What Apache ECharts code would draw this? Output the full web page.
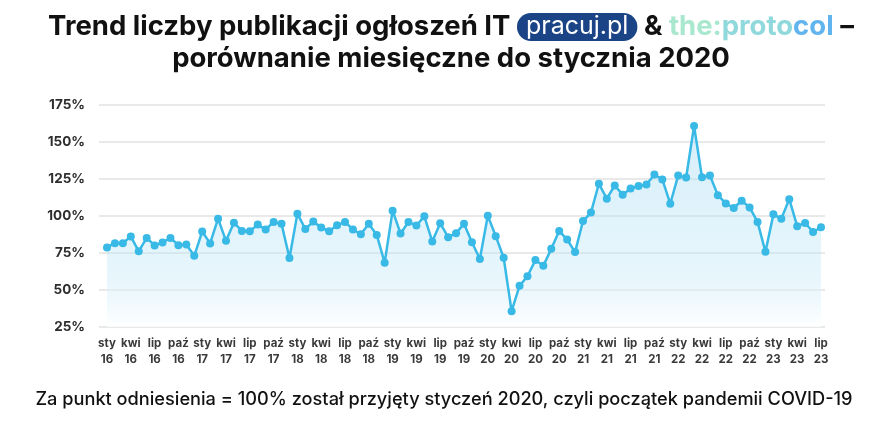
<!DOCTYPE html>
<html>
<head>
<meta charset="utf-8">
<script src="https://cdn.jsdelivr.net/npm/echarts@6/dist/echarts.min.js"></script>
<style>html,body{margin:0;padding:0;background:#fff}#c{width:891px;height:431px}</style>
</head>
<body>
<div id="c"></div>
<script>
const monthNames = ['sty','lut','mar','kwi','maj','cze','lip','sie','wrz','paź','lis','gru'];
const years = ['16','17','18','19','20','21','22','23'];
const lastYearMonths = 7;
const values = [
  78.8, 81.6, 81.6, 86.2, 76.1, 85.2, 80.1, 82.1, 85.2, 80.3, 80.8, 73.1,
  89.5, 81.5, 98.2, 83.2, 95.5, 89.9, 89.7, 94.2, 90.8, 96.0, 94.7, 71.6,
  101.6, 91.2, 96.2, 92.2, 89.7, 93.7, 96.0, 90.9, 87.7, 94.7, 87.2, 68.4,
  103.6, 88.2, 96.0, 93.5, 99.8, 82.8, 95.1, 85.7, 88.4, 94.7, 82.3, 70.9,
  100.2, 86.4, 71.8, 35.7, 52.8, 59.3, 70.2, 66.4, 77.8, 89.9, 84.1, 75.6,
  96.6, 102.3, 121.8, 111.7, 120.6, 114.4, 118.6, 120.2, 121.3, 128.0, 124.7, 108.3,
  127.4, 126.0, 160.8, 126.2, 127.4, 114.1, 108.5, 105.4, 110.3, 105.8, 96.0, 75.8,
  101.1, 98.2, 111.4, 93.1, 95.3, 89.2, 92.4
];
const yTicks = [25, 50, 75, 100, 125, 150, 175];
const titleLine1 = 'Trend liczby publikacji ogłoszeń IT ';
const titleLine2 = 'porównanie miesięczne do stycznia 2020';
const footnote = 'Za punkt odniesienia = 100% został przyjęty styczeń 2020, czyli początek pandemii COVID-19';

const categories = [];
years.forEach((y, yi) => {
  const n = yi === years.length - 1 ? lastYearMonths : 12;
  for (let m = 0; m < n; m++) categories.push(monthNames[m] + '\n' + y);
});

const chart = echarts.init(document.getElementById('c'), null, {renderer: 'canvas'});
const FONT = 'Inter, "Noto Sans", sans-serif';
const TS = 27.5;
const option = {
  backgroundColor: '#ffffff',
  animation: false,
  title: [{
    text: titleLine1 + '{badge|pracuj.pl} & {t1|the:}{t2|proto}{t3|col} –\n' + titleLine2,
    left: 446,
    textAlign: 'center',
    top: 6,
    textStyle: {
      fontFamily: FONT, fontSize: TS, fontWeight: 'bold', color: '#111111', lineHeight: 32, align: 'center',
      rich: {
        badge: {fontFamily: FONT, fontSize: 25, fontWeight: 'normal', color: '#ffffff', backgroundColor: '#1b4486', borderRadius: 14, padding: [1, 9, 2, 9], lineHeight: 28},
        t1: {fontFamily: FONT, fontSize: TS, fontWeight: 'bold', color: '#a9e8cf'},
        t2: {fontFamily: FONT, fontSize: TS, fontWeight: 'bold', color: '#8fd8dc'},
        t3: {fontFamily: FONT, fontSize: TS, fontWeight: 'bold', color: '#62b4ee'}
      }
    }
  }, {
    text: footnote,
    left: 439,
    textAlign: 'center',
    top: 386,
    textStyle: {fontFamily: FONT, fontSize: 18.2, fontWeight: 500, color: '#111111'}
  }],
  grid: [
    {left: 99, right: 66, top: 105, height: 222},
    {left: 107, right: 70, top: 105, height: 222}
  ],
  xAxis: [
    {gridIndex: 0, type: 'value', min: 0, max: 1, show: false},
    {
      gridIndex: 1, type: 'category', data: categories, boundaryGap: false,
      axisLine: {show: false}, axisTick: {show: false},
      axisLabel: {interval: 2, margin: 9, fontFamily: FONT, fontSize: 11.5, fontWeight: 'bold', color: '#3a3a3a', lineHeight: 16}
    }
  ],
  yAxis: [
    {
      gridIndex: 0, type: 'value', min: yTicks[0], max: yTicks[yTicks.length - 1], interval: 25,
      axisLine: {show: false}, axisTick: {show: false},
      splitLine: {lineStyle: {color: '#e2e2e2', width: 1.5}},
      axisLabel: {formatter: '{value}%', margin: 14, fontFamily: FONT, fontSize: 13.5, fontWeight: 'bold', color: '#2e2e2e'}
    },
    {gridIndex: 1, type: 'value', min: yTicks[0], max: yTicks[yTicks.length - 1], interval: 25, show: false, splitLine: {show: false}}
  ],
  series: [{
    type: 'line',
    xAxisIndex: 1, yAxisIndex: 1,
    data: values,
    symbol: 'circle', symbolSize: 8, showAllSymbol: true,
    lineStyle: {color: '#38b9e6', width: 2.5},
    itemStyle: {color: '#38b9e6'},
    areaStyle: {
      color: new echarts.graphic.LinearGradient(0, 0, 0, 1, [
        {offset: 0, color: 'rgba(160,216,242,0.62)'},
        {offset: 0.7, color: 'rgba(190,230,247,0.55)'},
        {offset: 1, color: 'rgba(255,255,255,0.95)'}
      ])
    }
  }]
};
chart.setOption(option);
</script>
</body>
</html>
